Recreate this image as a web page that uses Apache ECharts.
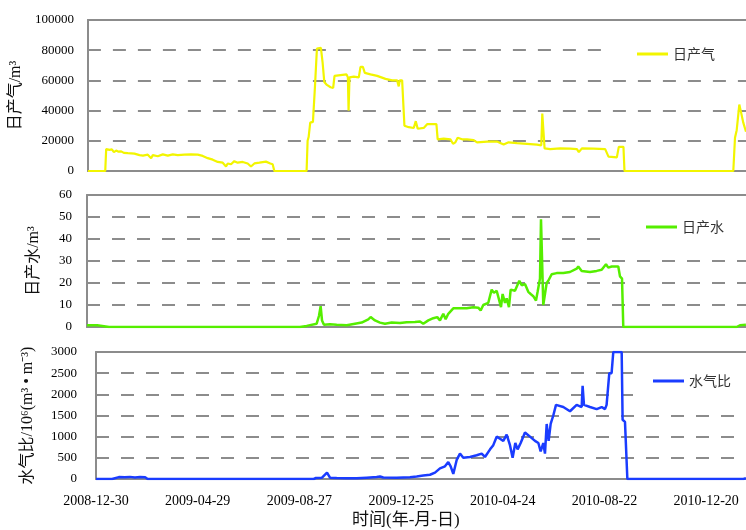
<!DOCTYPE html>
<html>
<head>
<meta charset="utf-8">
<title>日产气、日产水与水气比</title>
<script src="https://cdn.jsdelivr.net/npm/echarts@6/dist/echarts.min.js"></script>
<style>
  html, body { margin: 0; padding: 0; background: #fff; }
  #chart { width: 746px; height: 530px; }
</style>
</head>
<body>
<div id="chart"></div>
<script>
// Time axis runs in days counted from 2008-12-30.
const startDate = '2008-12-30';
const xTickLabels = ['2008-12-30', '2009-04-29', '2009-08-27', '2009-12-25', '2010-04-24', '2010-08-22', '2010-12-20'];
const xTickStep = 120;
// last day visible in each panel (upper two panels share one span)
const xMaxDayUpper = 777.6;
const xMaxDayLower = 767;

// Daily gas production, m³: [day, value]
const gasData = [
  [0, 0], [20.5, 0], [21.6, 14500], [22.8, 14800], [25.6, 14000], [28.3, 14300], [30.7, 12500],
  [33.4, 13500], [36.2, 12800], [39.3, 13000], [42.5, 12000], [47.2, 11800], [55, 11500],
  [61, 10500], [65, 10200], [70.8, 10800], [74.7, 8500], [76.7, 10500], [82.6, 9800],
  [88.5, 11000], [94.4, 10200], [100.3, 11000], [106.2, 10500], [114, 10800], [122, 11000],
  [129.8, 10800], [135.7, 10000], [141.6, 8500], [147.5, 7500], [153.4, 6000], [159.3, 5500],
  [163.2, 3000], [165.2, 5000], [169.1, 4500], [173, 6500], [177, 5500], [182.9, 6000],
  [188.8, 5000], [192.7, 3000], [196.7, 5000], [202.6, 5500], [210.4, 6200], [215.5, 5000],
  [218.3, 4500], [220.3, 0], [258.4, 0], [259.6, 20000], [260.8, 22500], [262.7, 32000],
  [265.9, 32500], [268.2, 55000], [270.6, 81000], [275.3, 81500], [277.3, 72000],
  [279.3, 59000], [282.4, 57000], [286.7, 55500], [289.8, 55000], [291.4, 63000],
  [298.5, 63500], [305.6, 64000], [307.2, 62000], [308, 40000], [309.1, 62000],
  [314.2, 62500], [320.1, 62000], [322.1, 69000], [324.9, 69000], [327.2, 65000],
  [333.9, 64000], [341.8, 63000], [351.6, 61000], [359.5, 60000], [365.4, 60000],
  [367.3, 56000], [368.5, 60000], [371.3, 60000], [374, 30000], [379.1, 29000],
  [385, 28500], [387.4, 33000], [389.7, 28000], [396.8, 28500], [400.8, 31000],
  [411.8, 31000], [413.3, 21000], [420.4, 21500], [428.3, 21000], [431.4, 18000],
  [434.2, 19000], [436.9, 22000], [442.1, 21000], [448, 21000], [455.8, 20500],
  [459.8, 19000], [471.6, 19500], [483.4, 19500], [491.2, 17500], [497.1, 19000],
  [507, 18500], [518.7, 18000], [530.6, 17500], [535.7, 17000], [536.9, 38000],
  [538.4, 37000], [539.6, 15000], [546.3, 14500], [558.1, 15000], [569.9, 14800],
  [577.8, 14500], [580.1, 12500], [583.7, 15000], [597.4, 14800], [611.2, 14500],
  [615.1, 9500], [625, 9000], [627.3, 16000], [632.8, 16000], [634, 0], [762.6, 0],
  [764.6, 22000], [766.6, 27000], [769.7, 44000], [772.1, 38000], [774.4, 32000], [777.6, 26000]
];

// Daily water production, m³: [day, value]
const waterData = [
  [0, 0.8], [12, 0.8], [13, 0], [26, 0], [27, 0.8], [28, 0], [35, 0], [36, 0.8], [37, 0],
  [46, 0], [47, 0.8], [48, 0], [251.3, 0], [259.2, 0.5], [261.1, 1.2], [271, 1.5],
  [273.7, 5], [275.7, 9.5], [277.3, 3], [279.6, 1], [286.7, 1.2], [294.6, 1], [306.4, 0.8],
  [316.2, 1.5], [324.1, 2], [331.9, 3.5], [334.7, 4.5], [339.8, 3], [345.7, 2], [351.6, 1.5],
  [359.5, 2], [369.3, 1.8], [377.2, 2.2], [387, 2.3], [392.9, 2.5], [396.8, 1.5],
  [402.7, 3], [408.6, 4], [413.3, 4.5], [416.5, 3], [420.4, 6], [423.2, 3.5], [426.3, 6],
  [432.2, 8.5], [440.1, 8.5], [448, 8.5], [455.8, 9], [461.7, 8.8], [464.5, 7.5],
  [467.6, 10], [473.5, 11], [477.5, 17], [480.2, 15.5], [483.4, 16.5], [486.5, 12],
  [488.5, 9], [490.4, 15], [493.2, 11], [495.2, 13], [497.9, 9], [499.9, 17], [505, 16.5],
  [510.1, 21], [512.9, 19], [516.8, 19.5], [520.7, 16], [523.5, 15], [526.6, 14],
  [529.8, 12], [531.7, 16], [534.5, 22], [535.7, 49], [537.6, 49.5], [538.4, 10],
  [540.4, 15], [542.4, 20], [544.3, 21], [548.3, 24], [554.2, 24.5], [562, 24.5],
  [569.9, 25], [577.8, 26.5], [579.7, 27.5], [583.7, 25.5], [593.5, 25], [601.4, 25.5],
  [607.3, 26], [612.4, 28.5], [615.1, 27], [619.1, 27.5], [626.9, 27.5], [628.9, 23],
  [631.3, 22], [632.8, 0], [766.5, 0], [770.5, 0.8], [777.5, 1]
];

// Water-gas ratio, 10⁻⁶ m³/m³: [day, value]
const ratioData = [
  [0, 0], [19, 0], [20, 30], [27, 45], [34, 40], [40, 50], [46, 35], [52, 45], [58, 40],
  [61, 0], [140.5, 0], [141.6, 25], [142.6, 0], [257, 0], [259.6, 25], [266.7, 30],
  [272.6, 150], [276.1, 30], [284, 25], [295.8, 20], [307.6, 15], [319.4, 30], [331.2, 45],
  [335.1, 60], [339, 35], [354.8, 30], [370.5, 40], [378.4, 60], [386.2, 80], [394.1, 100],
  [400, 150], [405.9, 250], [411.8, 300], [415.7, 400], [418.5, 300], [421.6, 120],
  [425.6, 450], [429.5, 600], [433.4, 500], [441.3, 520], [449.2, 560], [455.1, 600],
  [459, 520], [465, 700], [468.8, 800], [472.8, 1000], [476.7, 950], [480.6, 900],
  [484.6, 1050], [488.5, 800], [491.6, 500], [494.8, 850], [497.5, 700], [501.1, 850],
  [506.2, 1100], [512.1, 1000], [518, 900], [522, 850], [524.7, 650], [527.8, 850],
  [529.8, 600], [531.8, 1300], [534.1, 900], [536.5, 1300], [539.6, 1500], [542.8, 1750],
  [551.4, 1700], [559.3, 1600], [567.2, 1750], [573.1, 1700], [574.2, 2200], [575.8, 1750],
  [582.9, 1700], [590.8, 1650], [596.7, 1700], [600.6, 1650], [602.5, 1750], [605.7, 2500],
  [608.4, 2500], [610.4, 3000], [620.3, 3000], [621.4, 1400], [624.2, 1350], [627, 0],
  [764, 0], [767, 20]
];

const gasColor = '#f2f500';
const waterColor = '#55ee00';
const ratioColor = '#1a3cff';
const frameColor = '#8c8c8c';
const numFont = '"Liberation Serif", "DejaVu Serif", serif';
const cjkFont = '"Liberation Serif", "Noto Sans CJK SC", serif';

function dayToLabel(v) {
  const i = Math.round(v / xTickStep);
  if (Math.abs(v - i * xTickStep) > 0.01 || i < 0 || i >= xTickLabels.length) return '';
  return xTickLabels[i];
}

const frameLine = { show: true, lineStyle: { color: frameColor, width: 2 } };

function makeX(gridIndex, maxDay, withLabels) {
  return {
    type: 'value', gridIndex, min: 0, max: maxDay, interval: xTickStep, position: 'bottom',
    axisLine: frameLine,
    axisTick: { show: false },
    splitLine: { show: false },
    axisLabel: withLabels ? {
      show: true, formatter: dayToLabel, showMaxLabel: false, margin: 15,
      fontFamily: numFont, fontSize: 14, color: '#000'
    } : { show: false }
  };
}

// top edge of each panel frame
function makeTopX(gridIndex, maxDay) {
  return {
    type: 'value', gridIndex, min: 0, max: maxDay, position: 'top',
    axisLine: frameLine, axisTick: { show: false }, axisLabel: { show: false },
    splitLine: { show: false }
  };
}

function makeY(gridIndex, max, interval, name, nameGap, labelMargin) {
  return {
    type: 'value', gridIndex, min: 0, max, interval,
    name, nameLocation: 'middle', nameRotate: 90, nameGap,
    nameTextStyle: { fontFamily: cjkFont, fontSize: 16, color: '#111' },
    axisLine: frameLine,
    axisTick: { show: false },
    axisLabel: {
      fontFamily: numFont, fontSize: 13, color: '#000', margin: labelMargin,
      formatter: v => String(v)
    },
    splitLine: { show: true, lineStyle: { color: frameColor, width: 2, type: [13, 12] } }
  };
}

function makeLegend(name, left, top) {
  return {
    data: [name], left, top, padding: 0, orient: 'horizontal',
    icon: 'rect', itemWidth: 31, itemHeight: 3, itemGap: 5,
    textStyle: { fontFamily: '"Noto Sans CJK SC", sans-serif', fontSize: 14, color: '#333' }
  };
}

function makeLine(name, data, color, idx, width) {
  return {
    type: 'line', name, data, xAxisIndex: idx, yAxisIndex: idx,
    symbol: 'none', showSymbol: false, animation: false,
    lineStyle: { color, width }, itemStyle: { color }
  };
}

// white panels behind each legend, breaking the dashed grid lines
function legendBox(x, y, w, h) {
  return { type: 'rect', z: 1, silent: true, shape: { x, y, width: w, height: h }, style: { fill: '#fff' } };
}

const chart = echarts.init(document.getElementById('chart'), null, { renderer: 'canvas' });
chart.setOption({
  backgroundColor: '#fff',
  animation: false,
  grid: [
    { left: 87, top: 20, right: 0, height: 151 },
    { left: 87, top: 195, right: 0, height: 132 },
    { left: 96, top: 352, right: 0, height: 127 }
  ],
  xAxis: [
    makeX(0, xMaxDayUpper, false), makeX(1, xMaxDayUpper, false), makeX(2, xMaxDayLower, true),
    makeTopX(0, xMaxDayUpper), makeTopX(1, xMaxDayUpper), makeTopX(2, xMaxDayLower)
  ],
  yAxis: [
    makeY(0, 100000, 20000, '日产气/m³', 52, 14),
    makeY(1, 60, 10, '日产水/m³', 45, 15),
    makeY(2, 3000, 500, '水气比/10⁶(m³ • m⁻³)', 60, 19)
  ],
  legend: [
    makeLegend('日产气', 637, 47),
    makeLegend('日产水', 646, 220),
    makeLegend('水气比', 653, 374)
  ],
  series: [
    makeLine('日产气', gasData, gasColor, 0, 2.2),
    makeLine('日产水', waterData, waterColor, 1, 2.5),
    makeLine('水气比', ratioData, ratioColor, 2, 2.5)
  ],
  graphic: [
    legendBox(601, 40, 145, 30),
    legendBox(611, 205, 135, 46),
    legendBox(633, 365, 113, 40),
    {
      type: 'text', left: 352, top: 512,
      style: { text: '时间(年-月-日)', font: '17px "Liberation Serif", "Noto Sans CJK SC", serif', fill: '#111' }
    }
  ]
});
</script>
</body>
</html>
